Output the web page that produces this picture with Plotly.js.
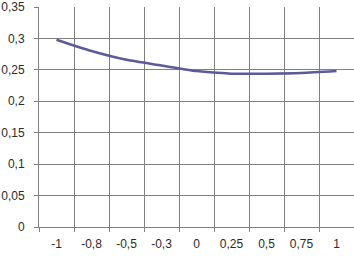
<!DOCTYPE html>
<html><head><meta charset="utf-8">
<script src="https://cdn.plot.ly/plotly-3.0.1.min.js"></script>
<style>html,body{margin:0;padding:0;background:#fff}#c{width:354px;height:257px}</style>
</head><body><div id="c"></div>
<script>
const categories = ["-1", "-0,8", "-0,5", "-0,3", "0", "0,25", "0,5", "0,75", "1"];
const values = [0.298, 0.280, 0.266, 0.257, 0.248, 0.244, 0.244, 0.245, 0.248];
const yTicks = [0, 0.05, 0.1, 0.15, 0.2, 0.25, 0.3, 0.35];

const trace = {
  x: categories, y: values, type: 'scatter', mode: 'lines',
  line: {color: '#5c5a9a', width: 2.5, shape: 'spline', smoothing: 0.6}, hoverinfo: 'none'
};
const font = {family: 'Liberation Sans, Arial, sans-serif', size: 12, color: '#2a2a2a'};
const layout = {
  width: 354, height: 257,
  margin: {l: 39, r: 0, t: 7, b: 30, pad: 0},
  separators: ',.',
  showlegend: false,
  paper_bgcolor: '#fff', plot_bgcolor: '#fff',
  font: font,
  xaxis: {
    type: 'category', range: [-0.5, 8.5], tickson: 'boundaries',
    showgrid: true, gridcolor: '#808080', gridwidth: 1,
    showline: true, linecolor: '#808080', linewidth: 1,
    ticks: 'outside', ticklen: 4, tickcolor: '#808080',
    ticklabelstandoff: 6, fixedrange: true, zeroline: false,
    ticklabeloverflow: 'allow'
  },
  yaxis: {
    range: [0, 0.35], tickvals: yTicks,
    showgrid: true, gridcolor: '#808080', gridwidth: 1,
    showline: true, linecolor: '#808080', linewidth: 1,
    ticks: 'outside', ticklen: 4, tickcolor: '#808080',
    ticklabelstandoff: 7, zeroline: false, fixedrange: true,
    ticklabeloverflow: 'allow'
  }
};
Plotly.newPlot('c', [trace], layout, {staticPlot: true, displayModeBar: false});
</script></body></html>
